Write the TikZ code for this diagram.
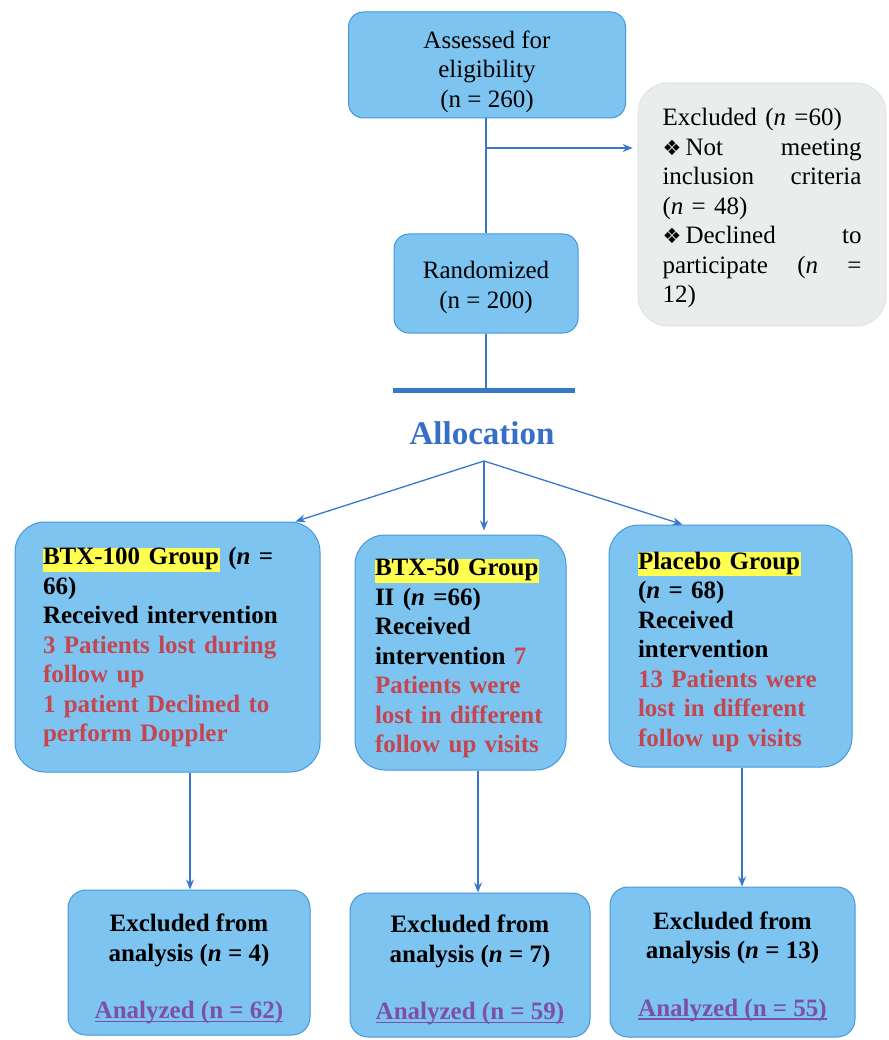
\documentclass[tikz,border=0pt]{standalone}
\usepackage{fontspec}
\setmainfont{Liberation Serif}
\newfontfamily\dejavu{DejaVu Sans}
\usetikzlibrary{arrows.meta}
\definecolor{boxfill}{RGB}{126,196,240}
\definecolor{boxline}{RGB}{70,150,220}
\definecolor{greyfill}{RGB}{233,237,235}
\definecolor{greyline}{RGB}{215,220,218}
\definecolor{conn}{RGB}{56,120,200}
\definecolor{redtxt}{RGB}{195,70,80}
\definecolor{purp}{RGB}{125,80,165}
\definecolor{allocblue}{RGB}{55,110,200}
\definecolor{hl}{RGB}{255,255,80}
\newcommand\hlt[1]{\smash{{\setlength{\fboxsep}{0pt}\colorbox{hl}{\rule[-7pt]{0pt}{24pt}#1\hspace{1pt}}}}}
\newcommand\dmd{{\dejavu\fontsize{21}{21}\selectfont ❖}}
\newcommand\jline[1]{\leavevmode\makebox[199pt][l]{#1}}
\newcommand\tp[1]{\rule{0pt}{#1pt}}
\newcommand\ulc[1]{\setbox0\hbox{#1}\rlap{\rule[-3.5pt]{\wd0}{1.4pt}}\box0}
\begin{document}
\begin{tikzpicture}[x=1pt,y=-1pt,
  txt/.style={font=\fontsize{25}{29.5}\selectfont},
  btxt/.style={font=\fontsize{25}{29.5}\selectfont\bfseries},
  bluebox/.style={draw=boxline, line width=1pt, fill=boxfill},
  topbox/.style={bluebox, rounded corners=15pt, txt, align=center},
  groupbox/.style={bluebox, rounded corners=30pt, btxt, align=left},
  endbox/.style={bluebox, rounded corners=18pt, btxt, align=center},
  greybox/.style={draw=greyline, line width=0.6pt, fill=greyfill, rounded corners=30pt, txt, align=left},
  conline/.style={conn, line width=1.3pt},
  arr/.style={conline, -{Stealth[length=10pt,width=8pt]}}]
\useasboundingbox (0,0) rectangle (888,1040);

% top part
\node[topbox, minimum width=277pt, minimum height=106pt] (assess) at (487,65)
  {\tp{31}Assessed for\\eligibility\\(n = 260)};
\node[topbox, minimum width=184pt, minimum height=99pt] (rand) at (486,283.5)
  {\tp{25}Randomized\\(n = 200)};
\node[greybox, minimum width=248pt, minimum height=243pt, text width=199pt, inner xsep=24.5pt] (excl) at (762,204.5)
  {\tp{25}Excluded (\textit{n} =60)\\\jline{\dmd\,Not\hfill meeting}\\\jline{inclusion\hfill criteria}\\(\textit{n} = 48)\\\jline{\dmd\,Declined\hfill to}\\\jline{participate\hfill(\textit{n}\hfill =}\\12)};

\coordinate (branch) at (486,148);
\draw[conline] (assess.south -| rand.north) -- (rand.north);
\draw[arr, shorten >=5pt] (branch) -- (branch -| excl.west);

\coordinate (barL) at (393,390);
\coordinate (barR) at (575,390);
\draw[conline] (rand.south) -- (rand.south |- barL);
\draw[conn, line width=5pt] (barL) -- (barR);

\node[font=\fontsize{33}{33}\selectfont\bfseries, text=allocblue] (alloc) at (482,433) {Allocation};
\coordinate (split) at (484,461);

% group boxes
\node[groupbox, minimum width=305pt, minimum height=250pt, text width=249pt, inner xsep=28pt] (g1) at (167.5,647)
  {\tp{17}\hlt{BTX-100 Group} (\textit{n} =\\66)\\Received intervention\\\color{redtxt}3 Patients lost during\\follow up\\1 patient Declined to\\perform Doppler};
\node[groupbox, minimum width=211pt, minimum height=235pt, text width=171pt, inner xsep=20pt] (g2) at (460.5,652.5)
  {\tp{29}\hlt{BTX-50 Group}\\II (\textit{n} =66)\\Received\\intervention \textcolor{redtxt}{7}\\\color{redtxt}Patients were\\lost in different\\follow up visits};
\node[groupbox, minimum width=243pt, minimum height=242pt, text width=185pt, inner xsep=29pt] (g3) at (730.5,646)
  {\tp{29}\hlt{Placebo Group}\\(\textit{n} = 68)\\Received\\intervention\\\color{redtxt}13 Patients were\\lost in different\\follow up visits};

\draw[arr] (split) -- ([xshift=-25pt]g1.north east);
\draw[arr, shorten >=4pt] (split) -- (split |- g2.north);
\draw[arr] (split) -- ([xshift=-48pt]g3.north);

% bottom boxes
\node[endbox, minimum width=242pt, minimum height=145pt] (e1) at (189,962.5)
  {\tp{31}Excluded from\\analysis (\textit{n} = 4)\\[28pt]\textcolor{purp}{\ulc{Analyzed (n = 62)}}};
\node[endbox, minimum width=240pt, minimum height=144pt] (e2) at (470,965)
  {\tp{28}Excluded from\\analysis (\textit{n} = 7)\\[28pt]\textcolor{purp}{\ulc{Analyzed (n = 59)}}};
\node[endbox, minimum width=245pt, minimum height=150pt] (e3) at (732.5,962)
  {\tp{27}Excluded from\\analysis (\textit{n} = 13)\\[28pt]\textcolor{purp}{\ulc{Analyzed (n = 55)}}};

\draw[arr] ([xshift=1pt]e1.north |- g1.south) -- ([xshift=1pt]e1.north);
\draw[arr] ([xshift=8pt]e2.north |- g2.south) -- ([xshift=8pt]e2.north);
\draw[arr] ([xshift=9.5pt]e3.north |- g3.south) -- ([xshift=9.5pt]e3.north);
\end{tikzpicture}
\end{document}
